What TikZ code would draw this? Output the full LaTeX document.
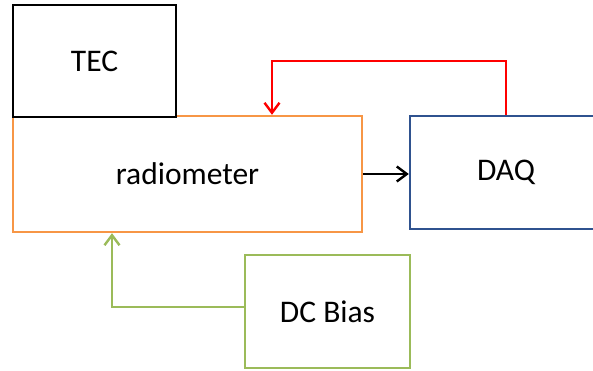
\documentclass[tikz,border=0pt]{standalone}
\usepackage{fontspec}
\setmainfont{Carlito}
\usetikzlibrary{arrows.meta}
\definecolor{tecc}{HTML}{000000}
\definecolor{radc}{HTML}{F79646}
\definecolor{daqc}{HTML}{2F528F}
\definecolor{biasc}{HTML}{9BBB59}
\definecolor{redc}{HTML}{FF0000}
\begin{document}
\begin{tikzpicture}[x=1pt,y=-1pt,
  blk/.style={draw,line width=2.4pt,inner sep=0pt,fill=white,
    font=\fontsize{31.5}{37}\selectfont},
  conn/.style={line width=2.6pt,-{Straight Barb[length=10pt,width=15pt,line width=2.4pt]}}]
\useasboundingbox (0,0) rectangle (593,371);
\clip (0,0) rectangle (593,371);
\fill[white] (0,0) rectangle (593,371);
\node[blk,draw=radc,minimum width=349pt,minimum height=116pt] (radio) at (187.5,174) {radiometer};
\node[blk,draw=tecc,line width=2.8pt,minimum width=163pt,minimum height=112pt] (tec) at (94.5,61) {TEC};
\node[blk,draw=daqc,minimum width=192pt,minimum height=113pt] (daq) at (506,172.5) {DAQ};
\node[blk,draw=biasc,minimum width=165pt,minimum height=113pt] (bias) at (327.5,311.5) {DC Bias};
\coordinate (rt) at (272,61);
\coordinate (gt) at (112,307);
\draw[conn,draw=redc] (daq.north) |- (rt) -- (rt |- radio.north);
\draw[conn,draw=black] (radio.east) -- (radio.east -| daq.west);
\draw[conn,draw=biasc] (bias.west |- gt) -- (gt) -- (gt |- radio.south);
\end{tikzpicture}
\end{document}
